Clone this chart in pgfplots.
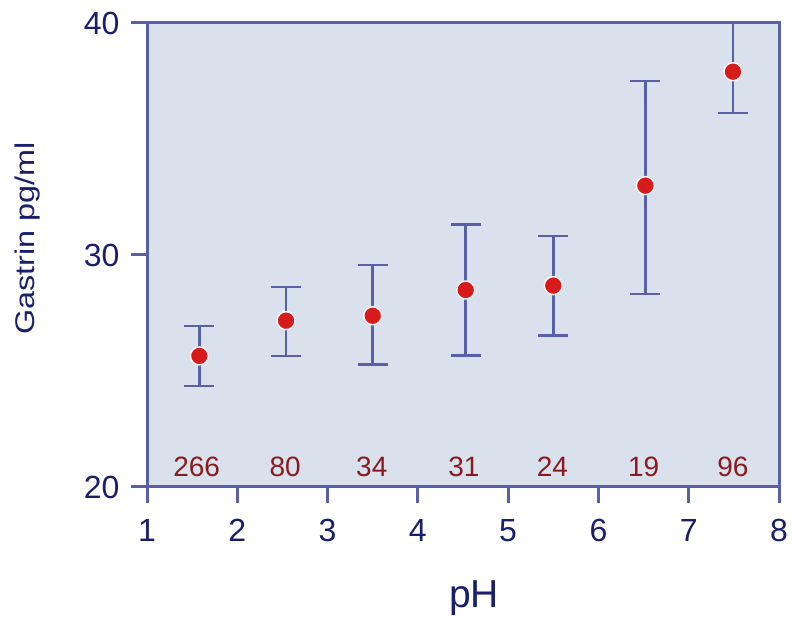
\documentclass[border=0pt]{standalone}
\usepackage{pgfplots}
\pgfplotsset{compat=1.18}
\usepackage{fontspec}
\setmainfont{Liberation Sans}
\definecolor{bgc}{HTML}{D9E1EC}
\definecolor{axc}{HTML}{5A60A8}
\definecolor{navy}{HTML}{1A1E6C}
\definecolor{ptred}{HTML}{D71A1A}
\definecolor{nred}{HTML}{8A1A1F}
\begin{document}
\begin{tikzpicture}[x=1pt,y=1pt]
\useasboundingbox (0,0) rectangle (795,617);
\begin{axis}[
  at={(147pt,130pt)}, anchor=south west,
  scale only axis, width=632pt, height=464pt,
  xmin=1, xmax=8, ymin=20, ymax=40,
  xtick={1,2,3,4,5,6,7,8}, ytick={20,30,40},
  axis background/.style={fill=bgc},
  axis line style={axc, line width=3pt},
  tick style={axc, line width=3pt},
  tick align=outside, major tick length=16pt,
  xtick pos=left, ytick pos=left,
  tick label style={font=\fontsize{32}{34}\selectfont, text=navy},
  /pgf/number format/assume math mode=true,
  xticklabel style={yshift=-13pt},
  yticklabel style={xshift=-8pt},
]
\addplot[only marks, mark=*, mark size=9pt,
  mark options={fill=ptred, draw=white!80!pink, line width=1.5pt},
  error bars/.cd, y dir=both, y explicit,
  error bar style={axc, line width=2.5pt},
  error mark options={rotate=90, mark size=15pt, line width=2.5pt, axc}]
coordinates {
(1.58,25.65) += (0,1.30) -= (0,1.30)
(2.54,27.17) += (0,1.46) -= (0,1.52)
(3.50,27.38) += (0,2.19) -= (0,2.09)
(4.53,28.49) += (0,2.83) -= (0,2.83)
(5.50,28.68) += (0,2.14) -= (0,2.16)
(6.52,32.99) += (0,4.52) -= (0,4.68)
(7.49,37.90) += (0,2.10) -= (0,1.79)
};
\foreach \xx/\nn in {1.55/266,2.53/80,3.49/34,4.51/31,5.49/24,6.50/19,7.49/96}{
  \edef\tmp{\noexpand\node[anchor=base, text=nred, font=\noexpand\fontsize{28}{30}\noexpand\selectfont] at (axis cs:\xx,20.47) {\nn};}
  \tmp
}
\end{axis}
\node[anchor=base, inner sep=0pt, text=navy, font=\fontsize{39}{42}\selectfont] at (474,9) {pH};
\node[rotate=90, anchor=north, inner sep=0pt, text=navy] at (15,378.5) {\scalebox{1.2}[1]{\fontsize{27}{30}\selectfont Gastrin pg/ml}};
\end{tikzpicture}
\end{document}
